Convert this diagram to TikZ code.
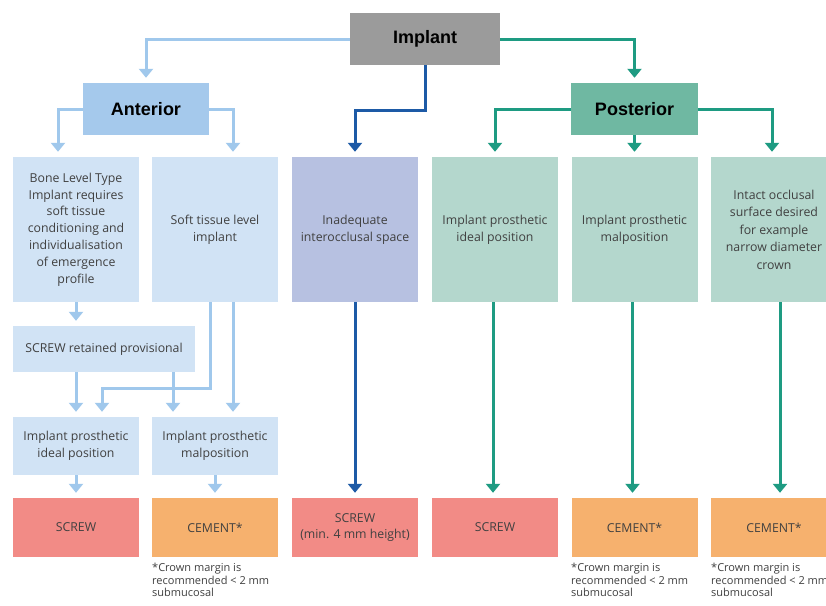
\documentclass[tikz,border=0pt]{standalone}
\usepackage{fontspec}
\setmainfont{Open Sans}
\newfontfamily\headfont{Liberation Sans}
\usetikzlibrary{arrows.meta,calc}
\definecolor{impgray}{HTML}{9B9B9B}
\definecolor{anthead}{HTML}{A5C9EC}
\definecolor{antlight}{HTML}{D1E3F5}
\definecolor{lblue}{HTML}{A0C8EC}
\definecolor{lav}{HTML}{B7C1E1}
\definecolor{dblue}{HTML}{1D5AA6}
\definecolor{posthead}{HTML}{6FB8A2}
\definecolor{postlight}{HTML}{B4D7CD}
\definecolor{teal}{HTML}{1E9B82}
\definecolor{screwred}{HTML}{F28B86}
\definecolor{cementor}{HTML}{F6B16E}
\definecolor{txt}{HTML}{404040}
\begin{document}
\begin{tikzpicture}[x=1pt,y=-1pt,
  box/.style={rectangle, inner sep=0pt, align=center, text=txt,
    font=\fontsize{12.3}{16.8}\selectfont},
  headbox/.style={box, text=black, font=\headfont\bfseries\fontsize{18}{20}\selectfont,
    minimum width=126pt, minimum height=52pt},
  tall/.style={box, minimum width=126pt, minimum height=145pt},
  mid/.style={box, minimum width=126pt, minimum height=58pt},
  bot/.style={box, minimum width=126pt, minimum height=59pt},
  note/.style={anchor=north west, align=left, inner sep=0pt, text=txt,
    font=\fontsize{11}{12.6}\selectfont},
  tipstyle/.style={-{Triangle[width=14pt,length=9pt]}},
  la/.style={draw=lblue, line width=3pt, tipstyle},
  da/.style={draw=dblue, line width=3pt, tipstyle},
  ta/.style={draw=teal, line width=3pt, tipstyle}]
\useasboundingbox (0,0) rectangle (826,605);
\fill[white] (0,0) rectangle (826,605);

% header nodes
\node[headbox, fill=impgray, minimum width=150pt] (imp) at (425,39) {Implant};
\node[headbox, fill=anthead] (ant) at (146,109) {Anterior};
\node[headbox, fill=posthead, minimum width=127pt] (post) at (634.5,109) {Posterior};

% first row
\node[tall, fill=antlight] (b1) at (76,229.5) {Bone Level Type\\Implant requires\\soft tissue\\conditioning and\\individualisation\\of emergence\\profile};
\node[tall, fill=antlight] (b2) at (215,229.5) {Soft tissue level\\implant};
\node[tall, fill=lav] (b3) at (355,229.5) {Inadequate\\interocclusal space};
\node[tall, fill=postlight] (b4) at (495,229.5) {Implant prosthetic\\ideal position};
\node[tall, fill=postlight] (b5) at (634.5,229.5) {Implant prosthetic\\malposition};
\node[tall, fill=postlight, font=\fontsize{12.3}{17.5}\selectfont] (b6) at (774,229.5) {Intact occlusal\\surface desired\\for example\\narrow diameter\\crown};

% anterior lower part
\node[box, fill=antlight, minimum width=182pt, minimum height=46pt] (prov) at (104,349) {SCREW retained provisional};
\node[mid, fill=antlight] (id) at (76,446) {Implant prosthetic\\ideal position};
\node[mid, fill=antlight] (mal) at (215,446) {Implant prosthetic\\malposition};

% bottom row
\node[bot, fill=screwred] (s1) at (76,527.5) {SCREW};
\node[bot, fill=cementor] (c1) at (215,527.5) {CEMENT*};
\node[bot, fill=screwred] (s2) at (355,527.5) {SCREW\\(min. 4 mm height)};
\node[bot, fill=screwred] (s3) at (495,527.5) {SCREW};
\node[bot, fill=cementor] (c2) at (634.5,527.5) {CEMENT*};
\node[bot, fill=cementor] (c3) at (774,527.5) {CEMENT*};

% notes
\node[note] (n1) at (152,563) {*Crown margin is\\recommended < 2 mm\\submucosal};
\node[note] (n2) at (571,563) {*Crown margin is\\recommended < 2 mm\\submucosal};
\node[note] (n3) at (711,563) {*Crown margin is\\recommended < 2 mm\\submucosal};

% connectors from Implant
\draw[la] (imp.west) -| ($(ant.north)+(0,-5)$);
\draw[ta] (imp.east) -| ($(post.north)+(0,-5)$);
\draw[da] (imp.south) -- ++(0,45) -| ($(b3.north)+(0,-5)$);

% anterior
\draw[la] (ant.west) -| ($(b1.north)+(-18,-5)$);
\draw[la] (ant.east) -| ($(b2.north)+(18,-5)$);
\draw[la] (b1.south) -- ($(b1.south |- prov.north)+(0,-5)$);
\draw[la] (prov.south -| id.north) -- ($(id.north)+(0,-5)$);
\draw[la] ($(prov.south -| mal.north)+(-42,0)$) -- ($(mal.north)+(-42,-5)$);
\draw[la] ($(b2.south)+(-5,0)$) -- ++(0,86) -| ($(id.north)+(26,-5)$);
\draw[la] ($(b2.south)+(18,0)$) -- ($(mal.north)+(18,-5)$);
\draw[la] (id.south) -- ($(s1.north)+(0,-5)$);
\draw[la] (mal.south) -- ($(c1.north)+(0,-5)$);

% middle
\draw[da] (b3.south) -- ($(s2.north)+(0,-5)$);

% posterior
\draw[ta] (post.west) -| ($(b4.north)+(0,-5)$);
\draw[ta] (post.south) -- ($(b5.north)+(0,-5)$);
\draw[ta] (post.east) -| ($(b6.north)+(-2,-5)$);
\draw[ta] ($(b4.south)+(-2,0)$) -- ($(s3.north)+(-2,-5)$);
\draw[ta] ($(b5.south)+(-2,0)$) -- ($(c2.north)+(-2,-5)$);
\draw[ta] ($(b6.south)+(6,0)$) -- ($(c3.north)+(6,-5)$);
\end{tikzpicture}
\end{document}
